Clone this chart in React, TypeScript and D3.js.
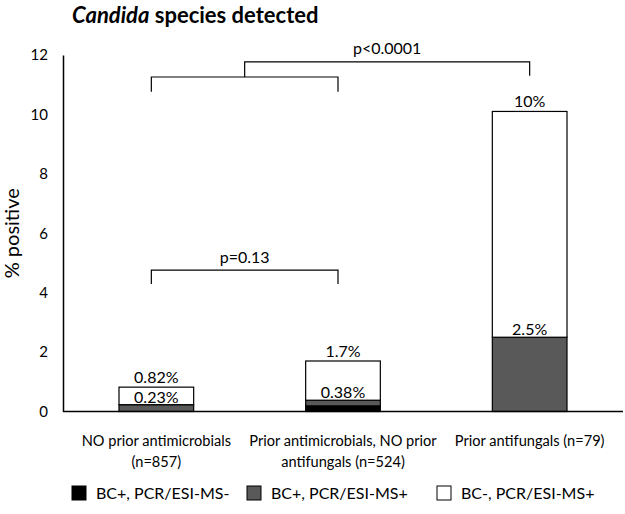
import { useRef, useEffect } from 'react';
import * as d3 from 'd3';

const categories = ['NO prior antimicrobials (n=857)', 'Prior antimicrobials, NO prior antifungals (n=524)', 'Prior antifungals (n=79)'];
const categoryLines = [
  ['NO prior antimicrobials', '(n=857)'],
  ['Prior antimicrobials, NO prior', 'antifungals (n=524)'],
  ['Prior antifungals (n=79)'],
];
const seriesNames = ['BC+, PCR/ESI-MS-', 'BC+, PCR/ESI-MS+', 'BC-, PCR/ESI-MS+'];
const bcPosPcrNeg = [0, 0.19, 0];
const bcPosPcrPos = [0.23, 0.19, 2.5];
const bcNegPcrPos = [0.59, 1.32, 7.6];
const totalLabels = ['0.82%', '1.7%', '10%'];
const bcPosLabels = ['0.23%', '0.38%', '2.5%'];
const yTicks = [0, 2, 4, 6, 8, 10, 12];

const FONT = 'Lato, "Open Sans", sans-serif';

export default function App() {
  const svgRef = useRef<SVGSVGElement>(null);

  useEffect(() => {
    const width = 625;
    const height = 514;
    const left = 63;
    const right = 623;
    const top = 55;
    const bottom = 411.5;

    const svg = d3.select(svgRef.current);
    svg.selectAll('*').remove();
    svg.attr('viewBox', `0 0 ${width} ${height}`);

    const rows = categories.map((c, i) => ({
      cat: c,
      [seriesNames[0]]: bcPosPcrNeg[i],
      [seriesNames[1]]: bcPosPcrPos[i],
      [seriesNames[2]]: bcNegPcrPos[i],
    }));

    const x = d3.scaleBand()
      .domain(categories)
      .range([left, right])
      .paddingInner(0.6)
      .paddingOuter(0.3);

    const y = d3.scaleLinear().domain([0, 12]).range([bottom, top]);

    const color = d3.scaleOrdinal<string, string>()
      .domain(seriesNames)
      .range(['#000000', '#595959', '#ffffff']);

    const stacked = d3.stack<any>().keys(seriesNames)(rows);

    // title
    const title = svg.append('text')
      .attr('x', 72)
      .attr('y', 23)
      .style('font-family', FONT)
      .style('font-size', '22px')
      .style('font-weight', '700')
      .attr('fill', '#000');
    title.append('tspan').style('font-style', 'italic').text('Candida');
    title.append('tspan').text(' species detected');

    // y axis
    const yAxis = svg.append('g')
      .attr('transform', `translate(${left},0)`)
      .call(d3.axisLeft(y).tickValues(yTicks).tickSize(0).tickPadding(15));
    yAxis.select('.domain').attr('stroke', '#000').attr('stroke-width', 1.5);
    yAxis.selectAll('text')
      .style('font-family', FONT)
      .style('font-size', '15px')
      .attr('fill', '#000');

    svg.append('text')
      .attr('transform', `translate(19,${(top + bottom) / 2}) rotate(-90)`)
      .attr('text-anchor', 'middle')
      .style('font-family', FONT)
      .style('font-size', '20px')
      .attr('fill', '#000')
      .text('% positive');

    // bars
    svg.append('g')
      .selectAll('g')
      .data(stacked)
      .join('g')
      .attr('fill', d => color(d.key))
      .selectAll('rect')
      .data(d => d)
      .join('rect')
      .attr('x', d => x(d.data.cat)!)
      .attr('y', d => y(d[1]))
      .attr('width', x.bandwidth())
      .attr('height', d => y(d[0]) - y(d[1]))
      .attr('stroke', d => (d[1] - d[0] > 0 ? '#000' : 'none'))
      .attr('stroke-width', 1.2);

    // x axis line
    svg.append('line')
      .attr('x1', left).attr('x2', right)
      .attr('y1', bottom).attr('y2', bottom)
      .attr('stroke', '#000').attr('stroke-width', 1.5);

    // value labels
    const totals = stacked[2];
    const bcPos = stacked[1];
    const labelG = svg.append('g')
      .style('font-family', FONT)
      .style('font-size', '16px')
      .attr('fill', '#000')
      .attr('text-anchor', 'middle');
    labelG.selectAll('.tot')
      .data(totals)
      .join('text')
      .attr('class', 'tot')
      .attr('x', d => x(d.data.cat)! + x.bandwidth() / 2)
      .attr('y', d => y(d[1]) - 4)
      .text((d, i) => totalLabels[i]);
    labelG.selectAll('.pos')
      .data(bcPos)
      .join('text')
      .attr('class', 'pos')
      .attr('x', d => x(d.data.cat)! + x.bandwidth() / 2)
      .attr('y', d => y(d[1]) - 2)
      .text((d, i) => bcPosLabels[i]);

    // category labels
    const catG = svg.append('g')
      .style('font-family', FONT)
      .style('font-size', '14.6px')
      .attr('fill', '#000')
      .attr('text-anchor', 'middle');
    categories.forEach((c, i) => {
      const t = catG.append('text')
        .attr('x', x(c)! + x.bandwidth() / 2)
        .attr('y', 446);
      categoryLines[i].forEach((line, j) => {
        t.append('tspan')
          .attr('x', x(c)! + x.bandwidth() / 2)
          .attr('dy', j === 0 ? 0 : 21)
          .text(line);
      });
    });

    // significance brackets
    const cx = (i: number) => x(categories[i])! + x.bandwidth() / 2;
    const bracket = svg.append('g')
      .attr('fill', 'none')
      .attr('stroke', '#000')
      .attr('stroke-width', 1.2);

    const lowX1 = cx(0) - 5;
    const lowX2 = cx(1) - 5;
    // p=0.13
    bracket.append('path')
      .attr('d', `M${lowX1},${y(4.29)}V${y(4.76)}H${lowX2}V${y(4.29)}`);
    // lower bracket for p<0.0001
    bracket.append('path')
      .attr('d', `M${lowX1},${y(10.76)}V${y(11.26)}H${lowX2}V${y(10.76)}`);
    const midLow = (lowX1 + lowX2) / 2;
    bracket.append('path')
      .attr('d', `M${midLow},${y(11.26)}V${y(11.77)}H${cx(2)}V${y(11.3)}`);

    const pG = svg.append('g')
      .style('font-family', FONT)
      .style('font-size', '16px')
      .attr('fill', '#000')
      .attr('text-anchor', 'middle');
    pG.append('text')
      .attr('x', midLow)
      .attr('y', y(4.76) - 7)
      .text('p=0.13');
    pG.append('text')
      .attr('x', (midLow + cx(2)) / 2)
      .attr('y', y(11.77) - 8)
      .text('p<0.0001');

    // legend
    const legendX = [72, 247, 437];
    const legend = svg.append('g')
      .style('font-family', FONT)
      .style('font-size', '16px')
      .attr('fill', '#000');
    const items = legend.selectAll('g')
      .data(seriesNames)
      .join('g')
      .attr('transform', (d, i) => `translate(${legendX[i]},486)`);
    items.append('rect')
      .attr('width', 14)
      .attr('height', 14)
      .attr('fill', d => color(d))
      .attr('stroke', '#000')
      .attr('stroke-width', 1);
    items.append('text')
      .attr('x', 24)
      .attr('y', 13)
      .text(d => d);
  }, []);

  return (
    <svg
      ref={svgRef}
      width={625}
      height={514}
      style={{ position: 'absolute', left: 0, top: 0, background: '#fff' }}
    />
  );
}
